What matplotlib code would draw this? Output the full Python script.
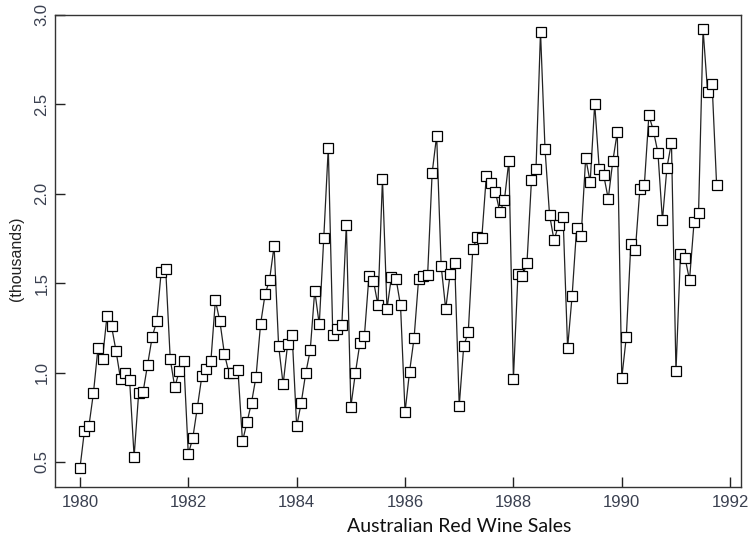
import numpy as np
import matplotlib
matplotlib.use("Agg")
import matplotlib.pyplot as plt

plt.rcParams["font.family"] = ["Liberation Sans", "DejaVu Sans"]

# Monthly Australian red wine sales, Jan 1980 - Oct 1991 (thousands of kilolitres)
start_year = 1980
sales = [
    0.464, 0.675, 0.703, 0.887, 1.139, 1.077, 1.318, 1.260, 1.120, 0.963, 0.996, 0.960,
    0.530, 0.883, 0.894, 1.045, 1.199, 1.287, 1.565, 1.577, 1.076, 0.918, 1.008, 1.063,
    0.544, 0.635, 0.804, 0.980, 1.018, 1.064, 1.404, 1.286, 1.104, 0.999, 0.996, 1.015,
    0.615, 0.722, 0.832, 0.977, 1.270, 1.437, 1.520, 1.708, 1.151, 0.934, 1.159, 1.209,
    0.699, 0.830, 0.996, 1.124, 1.458, 1.270, 1.753, 2.258, 1.208, 1.241, 1.265, 1.828,
    0.809, 0.997, 1.164, 1.205, 1.538, 1.513, 1.378, 2.083, 1.357, 1.536, 1.526, 1.376,
    0.779, 1.005, 1.193, 1.522, 1.539, 1.546, 2.116, 2.326, 1.596, 1.356, 1.553, 1.613,
    0.814, 1.150, 1.225, 1.691, 1.759, 1.754, 2.100, 2.062, 2.012, 1.897, 1.964, 2.186,
    0.966, 1.549, 1.538, 1.612, 2.078, 2.137, 2.907, 2.249, 1.883, 1.739, 1.828, 1.868,
    1.138, 1.430, 1.809, 1.763, 2.200, 2.067, 2.503, 2.141, 2.103, 1.972, 2.181, 2.344,
    0.970, 1.199, 1.718, 1.683, 2.025, 2.051, 2.439, 2.353, 2.230, 1.852, 2.147, 2.286,
    1.007, 1.665, 1.642, 1.518, 1.840, 1.892, 2.920, 2.572, 2.614, 2.049,
]
x_ticks = [1980, 1982, 1984, 1986, 1988, 1990, 1992]
y_ticks = [0.5, 1.0, 1.5, 2.0, 2.5, 3.0]

t = start_year + np.arange(len(sales)) / 12.0

W, H = 750, 536
fig = plt.figure(figsize=(W / 100, H / 100), dpi=100)
ax = fig.add_axes([55 / W, 1 - 487 / H, (741 - 55) / W, (487 - 15) / H])

ax.plot(t, sales, color="#222222", lw=0.9, zorder=2)
ax.plot(t, sales, ls="none", marker="s", ms=7.3, mfc="white", mec="black",
        mew=0.9, zorder=3)

ax.set_xlim(1979.54, 1992.2)
ax.set_ylim(0.36, 3.0)
ax.set_xticks(x_ticks)
ax.set_yticks(y_ticks)
ax.set_yticklabels([f"{v:.1f}" for v in y_ticks], rotation=90, va="center")

tick_color = "#3a4050"
ax.tick_params(direction="in", length=7, width=1.0, color="#222222",
               labelcolor=tick_color, labelsize=12, pad=6)
ax.tick_params(axis="y", pad=4)
for sp in ax.spines.values():
    sp.set_color("#333333")
    sp.set_linewidth(1.0)

fig.text(459 / W, 1 - 526 / H, "Australian Red Wine Sales", ha="center",
         va="center", fontsize=14, family="Lato", color="#111111")
fig.text(17 / W, 1 - 259 / H, "(thousands)", ha="center", va="center",
         rotation=90, fontsize=11.5, color="#222222")

fig.savefig("out.png", dpi=100, facecolor="white")
